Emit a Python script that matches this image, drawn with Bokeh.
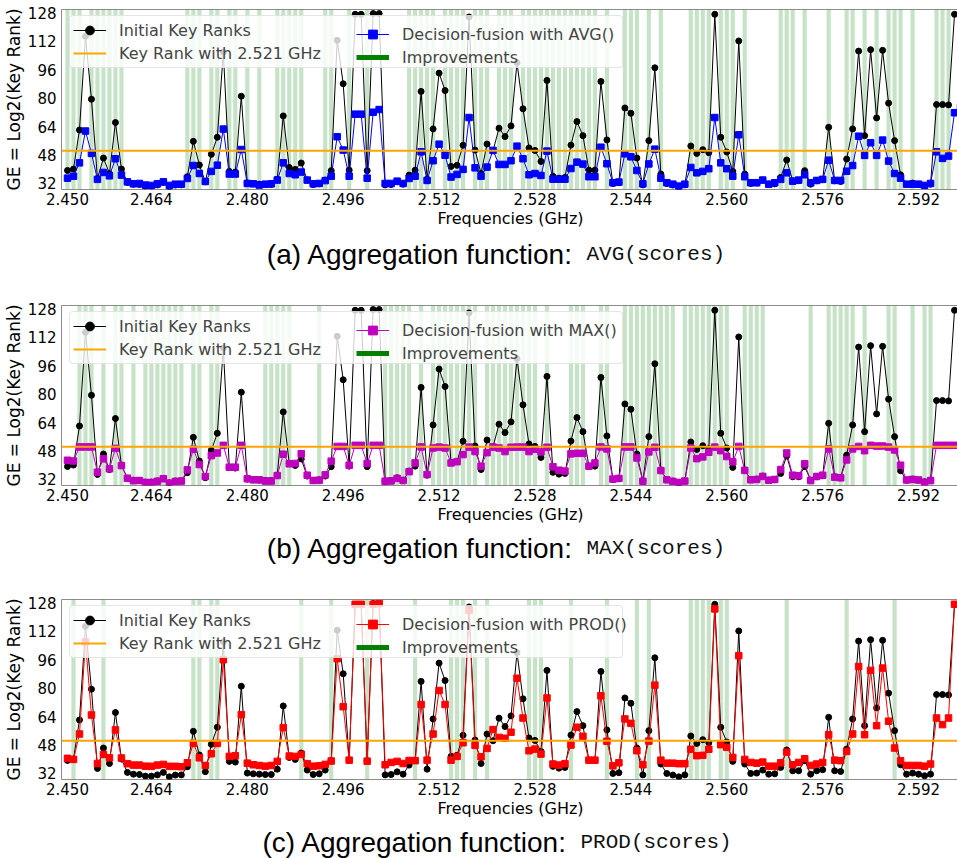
import math
from bokeh.plotting import figure
from bokeh.models import (ColumnDataSource, Legend, LegendItem, FixedTicker, Span,
                          Range1d, NumeralTickFormatter)
from bokeh.core.properties import value
from bokeh.layouts import column
from bokeh.embed import file_html
from bokeh.resources import INLINE

# ---------------- data ----------------
freqs = [round(2.450 + 0.001 * i, 3) for i in range(150)]

initial = [
    39.3, 40.1, 62.1, 114.8, 79.4, 34.8, 46.3, 37.6, 66.3, 40.1,
    32.6, 31.6, 31.4, 30.5, 30.5, 31.2, 32.6, 30.1, 31.1, 31.2,
    35.8, 55.7, 42.4, 33.0, 48.4, 58.0, 106.0, 38.8, 38.4, 81.1,
    32.2, 31.8, 31.6, 31.4, 31.4, 34.4, 70.0, 41.0, 39.9, 43.5,
    33.9, 31.4, 31.8, 33.9, 39.2, 112.6, 88.1, 39.5, 127.2, 127.2,
    39.2, 127.6, 127.6, 31.2, 31.4, 32.9, 31.6, 36.7, 39.5, 83.8,
    34.4, 62.7, 94.1, 84.3, 41.6, 42.2, 53.5, 125.7, 50.8, 37.6,
    54.2, 50.4, 63.1, 58.4, 64.4, 100.0, 74.0, 52.0, 50.6, 44.4,
    90.0, 36.0, 35.0, 35.4, 53.6, 66.8, 58.9, 39.5, 39.5, 89.4,
    56.5, 32.0, 32.4, 74.5, 71.5, 46.3, 31.2, 56.1, 97.1, 37.3,
    32.0, 31.1, 30.1, 31.2, 53.1, 48.9, 51.0, 49.3, 127.2, 58.0,
    49.7, 38.8, 112.2, 37.3, 32.0, 32.2, 33.9, 31.6, 31.8, 35.4,
    45.2, 33.5, 33.5, 39.2, 31.6, 33.5, 34.1, 63.6, 33.5, 33.1,
    45.7, 62.7, 106.5, 58.9, 107.3, 68.9, 106.9, 77.2, 56.1, 36.9,
    31.6, 32.2, 31.6, 30.7, 31.6, 76.4, 76.4, 76.2, 127.2, 127.2,
]

avg_fusion = [
    35.0, 36.1, 43.6, 61.5, 48.9, 34.3, 38.2, 36.3, 45.9, 36.7,
    32.9, 31.8, 32.0, 31.1, 30.9, 31.8, 32.9, 30.9, 31.6, 31.6,
    34.8, 42.1, 37.6, 33.1, 38.8, 42.3, 62.6, 37.3, 37.3, 51.1,
    32.0, 31.8, 31.1, 31.6, 31.8, 33.9, 43.6, 37.6, 36.9, 38.4,
    33.9, 31.8, 32.0, 33.6, 36.1, 58.3, 50.8, 36.1, 71.0, 71.0,
    35.0, 72.1, 73.6, 32.0, 32.0, 33.3, 32.0, 34.8, 36.1, 49.8,
    33.7, 44.8, 54.1, 47.9, 35.6, 37.1, 39.9, 69.1, 40.8, 36.1,
    41.2, 50.6, 42.7, 42.7, 44.8, 53.0, 45.9, 36.9, 37.6, 36.5,
    50.2, 34.4, 34.4, 34.4, 40.4, 44.0, 42.9, 35.8, 35.8, 52.4,
    43.1, 32.4, 32.8, 48.7, 47.0, 39.3, 31.8, 43.0, 51.3, 35.0,
    32.4, 31.6, 30.5, 31.6, 41.0, 38.0, 38.8, 40.3, 69.1, 43.6,
    40.3, 36.1, 59.4, 35.8, 32.4, 32.4, 33.9, 31.6, 32.4, 34.3,
    38.0, 33.3, 33.9, 36.9, 32.4, 33.7, 34.3, 45.1, 33.7, 33.7,
    38.9, 42.1, 58.6, 47.8, 54.9, 47.8, 56.4, 44.6, 37.6, 35.0,
    31.6, 31.6, 31.6, 30.9, 32.0, 49.8, 46.1, 47.4, 71.8, 74.8,
]

max_fusion = [
    42.8, 42.4, 50.3, 50.3, 50.3, 36.1, 43.6, 38.0, 49.5, 39.8,
    32.7, 31.3, 31.4, 30.3, 30.3, 31.0, 32.4, 29.9, 30.9, 31.1,
    37.4, 49.0, 40.4, 33.7, 45.4, 46.9, 51.2, 38.9, 38.9, 51.2,
    32.4, 31.8, 31.8, 31.1, 31.1, 34.2, 46.2, 40.8, 41.0, 46.5,
    34.4, 31.4, 31.6, 34.6, 42.3, 50.6, 50.6, 40.0, 51.2, 51.2,
    41.0, 51.2, 51.2, 31.0, 31.2, 32.6, 31.4, 36.4, 41.3, 50.3,
    34.8, 49.7, 50.2, 49.7, 41.3, 42.0, 46.0, 50.2, 47.7, 39.5,
    47.1, 50.2, 49.7, 47.7, 50.1, 50.2, 50.2, 47.7, 49.0, 47.5,
    50.1, 39.1, 37.2, 36.7, 46.4, 46.7, 46.7, 39.5, 41.3, 50.3,
    49.2, 32.2, 32.6, 50.3, 50.3, 44.1, 31.0, 47.5, 50.1, 37.0,
    31.8, 30.9, 30.3, 31.1, 49.7, 43.7, 44.7, 47.3, 50.2, 48.2,
    44.9, 41.9, 50.6, 37.1, 31.8, 32.0, 33.7, 31.6, 32.0, 37.6,
    46.9, 34.4, 34.1, 40.8, 31.4, 33.7, 34.4, 49.2, 33.3, 32.9,
    43.0, 49.2, 50.6, 48.2, 51.2, 50.8, 50.8, 50.2, 48.6, 40.0,
    31.7, 32.0, 31.7, 30.3, 31.4, 51.2, 51.2, 51.2, 51.2, 51.2,
]

prod_fusion = [
    40.5, 39.9, 54.2, 106.0, 64.9, 37.6, 42.7, 40.8, 56.5, 40.7,
    37.5, 36.7, 36.7, 36.1, 36.0, 36.7, 37.1, 36.0, 36.0, 35.8,
    38.0, 48.9, 40.8, 36.5, 43.1, 48.9, 96.0, 41.6, 42.0, 65.1,
    37.8, 36.9, 36.5, 36.1, 36.5, 38.8, 57.8, 41.8, 41.6, 42.7,
    37.5, 36.1, 36.3, 37.1, 39.0, 96.6, 69.6, 39.5, 127.2, 127.2,
    38.9, 127.2, 127.6, 36.9, 38.2, 38.8, 37.6, 39.3, 39.2, 70.8,
    39.5, 54.2, 78.7, 70.8, 39.5, 41.6, 49.3, 123.8, 47.8, 41.4,
    46.1, 56.7, 52.3, 51.8, 55.2, 85.6, 63.2, 44.8, 45.7, 42.9,
    74.5, 37.3, 36.7, 37.5, 48.0, 58.0, 52.9, 39.5, 39.5, 75.7,
    50.1, 36.3, 38.0, 62.7, 60.2, 44.8, 36.9, 50.2, 81.7, 39.5,
    37.8, 37.8, 37.5, 37.5, 45.6, 42.0, 42.2, 45.6, 124.6, 48.2,
    46.7, 41.0, 98.3, 39.9, 38.2, 37.8, 38.4, 36.1, 36.1, 38.0,
    44.0, 36.9, 38.2, 40.3, 36.5, 37.3, 38.2, 53.8, 39.5, 39.2,
    44.4, 54.2, 92.2, 53.8, 90.0, 58.9, 91.3, 61.4, 46.3, 39.2,
    36.5, 36.5, 36.5, 36.1, 37.3, 63.2, 59.5, 63.2, 127.2, 127.2,
]

ref_rank = 50.4  # key rank with 2.521 GHz

x_ticks = [2.450, 2.464, 2.480, 2.496, 2.512, 2.528, 2.544, 2.560, 2.576, 2.592]
y_ticks = [32, 48, 64, 80, 96, 112, 128]

panels = [
    dict(fused=avg_fusion, color="#0000ff", label="Decision-fusion with AVG()",
         cap="(a) Aggregation function:", mono="AVG(scores)", split=571,
         cap_h=62, cap_y=20),
    dict(fused=max_fusion, color="#bf00bf", label="Decision-fusion with MAX()",
         cap="(b) Aggregation function:", mono="MAX(scores)", split=571,
         cap_h=60, cap_y=18),
    dict(fused=prod_fusion, color="#ff0000", label="Decision-fusion with PROD()",
         cap="(c) Aggregation function:", mono="PROD(scores)", split=565,
         cap_h=34, cap_y=18),
]

SANS = "DejaVu Sans"
W = 957
LEFT = 59
nan_src_data = dict(x=[math.nan], y=[math.nan])


def legend_kw():
    return dict(padding=3, spacing=1, label_text_font=SANS, label_text_font_size="16px",
                glyph_width=33, glyph_height=22, label_height=22, label_standoff=13)


items = []
for cfg in panels:
    fused = cfg["fused"]
    p = figure(frame_width=W - LEFT, frame_height=180,
               x_range=Range1d(2.449, 2.59883), y_range=Range1d(28.6, 129.9),
               output_backend="svg", toolbar_location=None,
               min_border_left=LEFT, min_border_right=0, min_border_top=9,
               min_border_bottom=45)
    p.grid.visible = False
    p.outline_line_color = "#8c8c8c"
    p.outline_line_width = 1

    # improvement bands: fused rank better than the initial one and than 2.521 GHz
    imp_x = [freqs[i] for i in range(len(freqs))
             if fused[i] < initial[i] and fused[i] < ref_rank]
    band_src = ColumnDataSource(dict(x=imp_x))
    p.vbar(x="x", width=0.0007, bottom=0, top=200, source=band_src,
           fill_color="green", fill_alpha=0.22, line_color=None)

    p.add_layout(Span(location=ref_rank, dimension="width", line_color="orange",
                      line_width=2))

    src = ColumnDataSource(dict(x=freqs, init=initial, fused=fused))
    l_init = p.line("x", "init", source=src, line_color="black", line_width=1)
    p.scatter("x", "init", source=src, size=6, color="black")
    l_fus = p.line("x", "fused", source=src, line_color=cfg["color"], line_width=1)
    p.scatter("x", "fused", source=src, marker="square", size=6.5, color=cfg["color"])

    # legend-only glyphs (no visible data)
    leg_init_m = p.scatter("x", "y", source=ColumnDataSource(nan_src_data), size=14,
                           color="black")
    leg_fus_m = p.scatter("x", "y", source=ColumnDataSource(nan_src_data), size=14,
                          marker="square", color=cfg["color"])
    leg_ref = p.line("x", "y", source=ColumnDataSource(nan_src_data),
                     line_color="orange", line_width=2)
    leg_imp = p.line("x", "y", source=ColumnDataSource(nan_src_data),
                     line_color="green", line_width=5)

    leg1 = Legend(items=[
        LegendItem(label="Initial Key Ranks", renderers=[l_init, leg_init_m]),
        LegendItem(label="Key Rank with 2.521 GHz", renderers=[leg_ref]),
    ], location=(8, 121), label_width=500, background_fill_alpha=0.8,
        border_line_color="#cccccc", border_radius=4, **legend_kw())
    leg2 = Legend(items=[
        LegendItem(label=cfg["label"], renderers=[l_fus, leg_fus_m]),
        LegendItem(label="Improvements", renderers=[leg_imp]),
    ], location=(295, 121), background_fill_alpha=0, border_line_color=None,
        **legend_kw())
    p.add_layout(leg1)
    p.add_layout(leg2)

    p.xaxis.ticker = FixedTicker(ticks=x_ticks)
    p.xaxis.formatter = NumeralTickFormatter(format="0.000")
    p.yaxis.ticker = FixedTicker(ticks=y_ticks)
    for ax in (p.xaxis[0], p.yaxis[0]):
        ax.major_tick_out = 0
        ax.major_tick_in = 0
        ax.minor_tick_out = 0
        ax.minor_tick_in = 0
        ax.axis_line_color = None
        ax.major_label_text_font = SANS
        ax.major_label_text_font_size = "15px"
        ax.major_label_text_color = "black"
        ax.axis_label_text_font = SANS
        ax.axis_label_text_font_style = "normal"
        ax.axis_label_text_color = "black"
        ax.major_label_standoff = 3
    p.yaxis.major_label_standoff = 5
    p.xaxis.axis_label_text_font_size = "16px"
    p.yaxis.axis_label_text_font_size = "17px"
    p.xaxis.axis_label = "Frequencies (GHz)"
    p.yaxis.axis_label = "GE = Log2(Key Rank)"
    p.xaxis.axis_label_standoff = 1
    p.yaxis.axis_label_standoff = 1
    items.append(p)

    # caption strip (its frame is aligned with the plot frames: x data == canvas px)
    c = figure(frame_width=W - LEFT, frame_height=cfg["cap_h"],
               x_range=Range1d(LEFT, W), y_range=Range1d(0, cfg["cap_h"]),
               x_axis_type=None, y_axis_type=None,
               output_backend="svg", toolbar_location=None,
               min_border_left=LEFT, min_border_right=0, min_border_top=0,
               min_border_bottom=0)
    c.grid.visible = False
    c.outline_line_color = None
    cy = cfg["cap_h"] - cfg["cap_y"]
    c.text(x=[cfg["split"]], y=[cy], text=[cfg["cap"]], text_align="right",
           text_baseline="middle", text_font=value("Liberation Sans"),
           text_font_size="28px", text_color="black")
    c.text(x=[cfg["split"] + 13], y=[cy], text=[cfg["mono"]], text_align="left",
           text_baseline="middle", text_font=value("Liberation Mono"),
           text_font_size="21px", text_color="#111111")
    items.append(c)

layout = column(*items, spacing=0)
open("out.html", "w").write(file_html(layout, INLINE))
